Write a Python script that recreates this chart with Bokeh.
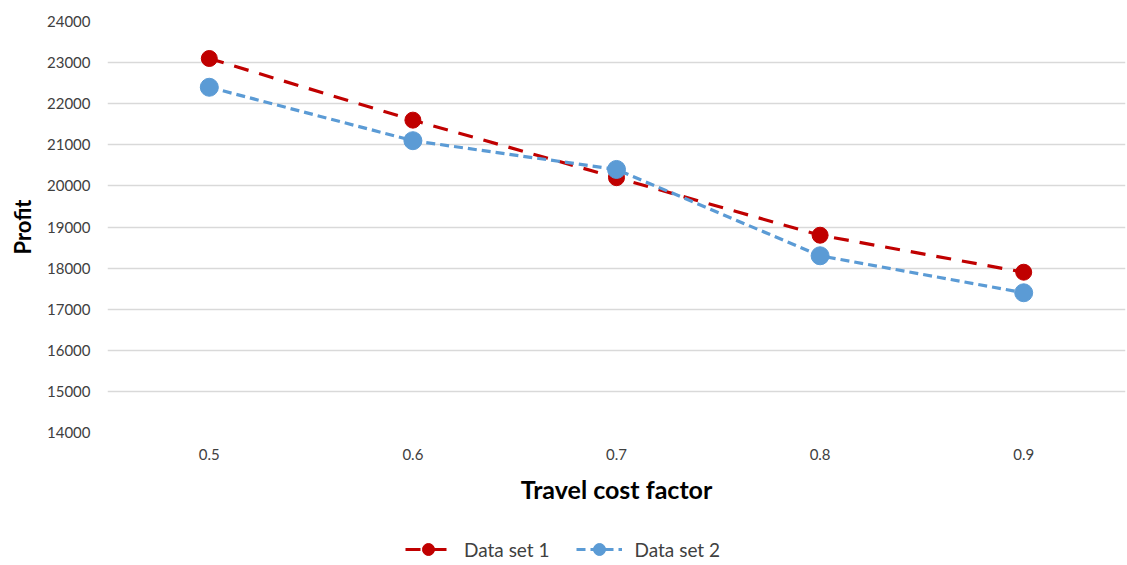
from bokeh.plotting import figure
from bokeh.models import Legend, LegendItem, FixedTicker, ColumnDataSource
from bokeh.layouts import column
from bokeh.embed import file_html
from bokeh.resources import INLINE

# Profit as a function of the travel cost factor, two data sets
factor = [0.5, 0.6, 0.7, 0.8, 0.9]
profit_set1 = [23100, 21600, 20200, 18800, 17900]
profit_set2 = [22400, 21100, 20400, 18300, 17400]
y_ticks = [14000, 15000, 16000, 17000, 18000, 19000, 20000, 21000, 22000, 23000, 24000]
series_names = ["Data set 1", "Data set 2"]

RED = "#C00000"
BLUE = "#5B9BD5"
FONT = "Lato"

src1 = ColumnDataSource(dict(x=factor, y=profit_set1))
src2 = ColumnDataSource(dict(x=factor, y=profit_set2))

p = figure(width=1127, height=507, output_backend="svg", toolbar_location=None,
           x_range=(0.45, 0.95), y_range=(14000, 24000),
           min_border_left=107, min_border_right=2, min_border_top=21, min_border_bottom=75)
p.outline_line_color = None
p.background_fill_color = "white"
p.border_fill_color = "white"

# grid: horizontal only
p.xgrid.grid_line_color = None
p.ygrid.grid_line_color = "#D9D9D9"
p.ygrid.grid_line_width = 1.5
p.ygrid.ticker = FixedTicker(ticks=y_ticks)

# axes
p.yaxis.ticker = FixedTicker(ticks=y_ticks)
p.xaxis.ticker = FixedTicker(ticks=factor)
for ax in (p.xaxis[0], p.yaxis[0]):
    ax.axis_line_color = None
    ax.major_tick_line_color = None
    ax.minor_tick_line_color = None
    ax.major_tick_out = 0
    ax.major_tick_in = 0
    ax.minor_tick_out = 0
    ax.minor_tick_in = 0
    ax.major_label_text_font = FONT
    ax.major_label_text_font_size = "15px"
    ax.major_label_text_color = "#404040"
    ax.axis_label_text_font = FONT
    ax.axis_label_text_font_style = "bold"
    ax.axis_label_text_color = "black"
p.yaxis.axis_label = "Profit"
p.xaxis.axis_label = "Travel cost factor"
p.yaxis.axis_label_text_font_size = "22px"
p.xaxis.axis_label_text_font_size = "25px"
p.yaxis.major_label_standoff = 17
p.yaxis.axis_label_standoff = 8
p.xaxis.major_label_standoff = 16
p.xaxis.axis_label_standoff = 11

line_styles = [dict(line_color=RED, line_width=3.2, line_dash="15 11"),
               dict(line_color=BLUE, line_width=3.2, line_dash="9 5")]
marker_styles = [dict(size=16, fill_color=RED, line_color=RED),
                 dict(size=18, fill_color=BLUE, line_color=BLUE)]

for src, ls, ms in zip([src1, src2], line_styles, marker_styles):
    p.line("x", "y", source=src, **ls)
    p.scatter("x", "y", source=src, **ms)

# legend strip underneath the chart; its glyph renderers share the series data,
# which lies outside this strip's ranges, so only the legend entries show
leg = figure(width=1127, height=58, output_backend="svg", toolbar_location=None,
             x_range=(0, 1127), y_range=(0, 58), x_axis_type=None, y_axis_type=None,
             min_border=0, min_border_left=0, min_border_right=0,
             min_border_top=0, min_border_bottom=0)
leg.outline_line_color = None
leg.xgrid.visible = False
leg.ygrid.visible = False
leg.border_fill_color = "white"

items = []
for name, src, ls, ms in zip(series_names, [src1, src2], line_styles, marker_styles):
    lr = leg.line("x", "y", source=src, **ls)
    mr = leg.scatter("x", "y", source=src, **ms)
    items.append(LegendItem(label=name, renderers=[lr, mr]))

legend = Legend(items=items, orientation="horizontal", location=(298, 1),
                label_text_font=FONT, label_text_font_size="19px",
                label_text_color="#404040", glyph_width=46, glyph_height=30,
                label_height=20, spacing=26, label_standoff=13,
                border_line_color=None, background_fill_alpha=0,
                margin=0, padding=0)
leg.add_layout(legend, "center")

layout = column(p, leg, spacing=0)
open("out.html", "w").write(file_html(layout, INLINE))
